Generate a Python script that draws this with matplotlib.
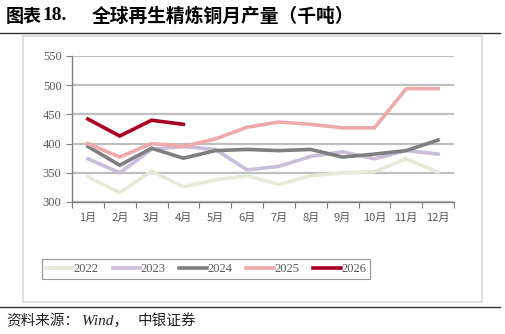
import numpy as np
import matplotlib.pyplot as plt
from matplotlib.patches import Rectangle
from matplotlib.lines import Line2D

plt.rcParams['font.family'] = ['Liberation Serif', 'Noto Sans CJK SC']

months = ['1月', '2月', '3月', '4月', '5月', '6月', '7月', '8月', '9月', '10月', '11月', '12月']
y2022 = [343, 316, 353, 326, 338, 345, 330, 345, 350, 352, 374, 351]
y2023 = [374, 350, 390, 395, 390, 355, 361, 378, 386, 374, 388, 382]
y2024 = [395, 363, 392, 375, 388, 390, 388, 390, 377, 382, 388, 406]
y2025 = [400, 377, 400, 395, 408, 428, 437, 433, 427, 427, 494, 494]
y2026 = [442, 413, 440, 433]

series = [('2022', y2022, '#E6EBD8'), ('2023', y2023, '#C9BEDC'),
          ('2024', y2024, '#7F7F7F'), ('2025', y2025, '#EFA9A9'),
          ('2026', y2026, '#A8001E')]

W, H = 505, 334
fig = plt.figure(figsize=(W / 100, H / 100), dpi=100)

# frame + rules
fig.add_artist(Rectangle((23 / W, 1 - 302 / H), 459 / W, 266 / H, transform=fig.transFigure,
                         fill=False, edgecolor='#D9D9D9', linewidth=1.2))
fig.add_artist(Line2D([0, 500 / W], [1 - 33 / H] * 2, color='#333333', linewidth=1.0))
fig.add_artist(Line2D([0, 500 / W], [1 - 307 / H] * 2, color='#333333', linewidth=1.0))

fig.text(6 / W, 1 - 16 / H, '图表', fontsize=13, fontweight='bold',
         family=['Noto Sans CJK SC'], va='center', ha='left')
fig.text(42 / W, 1 - 16 / H, '18.', fontsize=14, fontweight='bold',
         family=['Liberation Serif'], va='center', ha='left')
fig.text(92 / W, 1 - 16 / H, '全球再生精炼铜月产量（千吨）', fontsize=13.5, fontweight='bold',
         family=['Noto Sans CJK SC'], va='center', ha='left')
fig.text(6 / W, 1 - 321 / H, '资料来源：', fontsize=10.5, style='italic',
         family=['Noto Sans CJK SC'], va='center', ha='left', color='#222222')
fig.text(82 / W, 1 - 321 / H, 'Wind，', fontsize=11, style='italic',
         va='center', ha='left', color='#222222')
fig.text(138 / W, 1 - 321 / H, '中银证券', fontsize=10.5, style='italic',
         family=['Noto Sans CJK SC'], va='center', ha='left', color='#222222')

ax = fig.add_axes([72 / W, 1 - 202 / H, 382 / W, 146 / H])
x = np.arange(len(months))
for name, vals, col in series:
    ax.plot(x[:len(vals)], vals, color=col, linewidth=2.6, label=name, solid_joinstyle='miter')

ax.set_xlim(-0.5, 11.5)
ax.set_ylim(300, 550)
ax.set_yticks(np.arange(300, 551, 50))
ax.yaxis.grid(True, color='#BFBFBF', linewidth=1.6)
ax.set_axisbelow(True)
for s in ['top', 'right']:
    ax.spines[s].set_visible(False)
for s in ['left', 'bottom']:
    ax.spines[s].set_color('#7F7F7F')
    ax.spines[s].set_linewidth(1.0)
ax.set_xticks(np.arange(-0.5, 12, 1))
ax.set_xticklabels([])
ax.set_xticks(x, minor=True)
ax.set_xticklabels(months, minor=True, fontsize=8, color='#595959', family=['Noto Sans CJK SC'])
ax.tick_params(axis='x', which='major', length=4, color='#7F7F7F', direction='out')
ax.tick_params(axis='x', which='minor', length=0, pad=8)
ax.tick_params(axis='y', length=4, color='#7F7F7F', labelsize=9, labelcolor='#595959')

leg = fig.legend(loc='center', bbox_to_anchor=(206 / W, 1 - 269 / H), ncol=5, frameon=True,
                 fontsize=9, handlelength=2.2, handletextpad=0.05, columnspacing=1.1,
                 fancybox=False, borderpad=0.3)
leg.get_frame().set_edgecolor('#7F7F7F')
leg.get_frame().set_linewidth(0.8)
for t in leg.get_texts():
    t.set_color('#595959')

fig.savefig('out.png', dpi=100)
